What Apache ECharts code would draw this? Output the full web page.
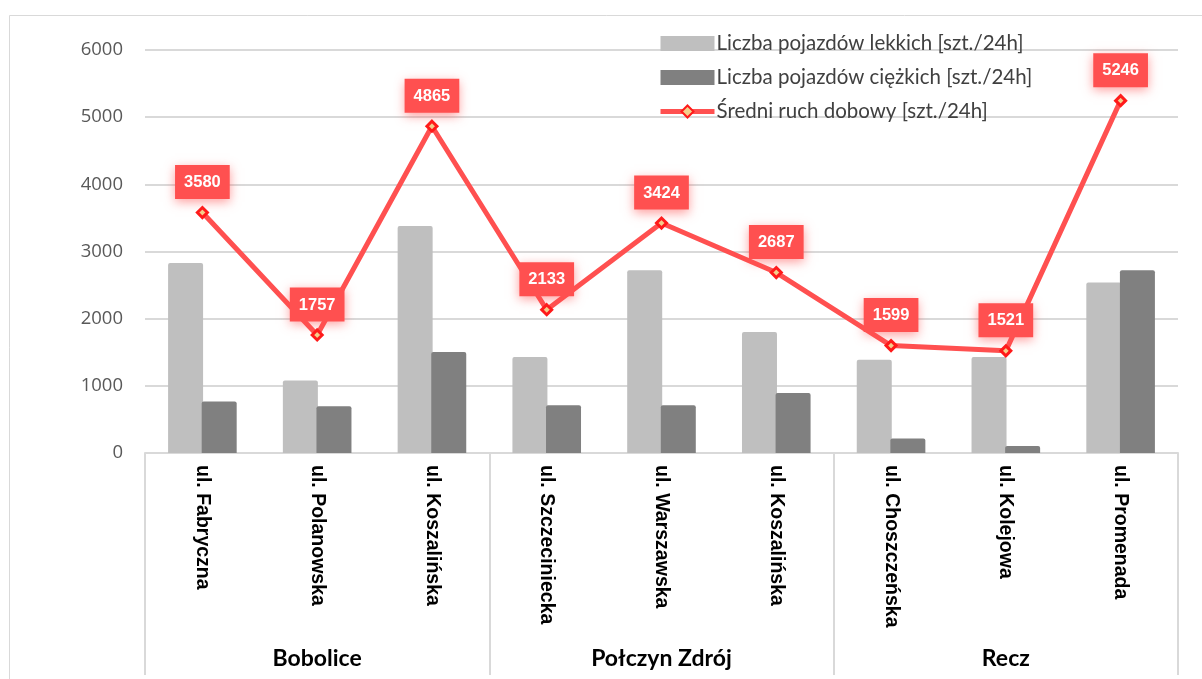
<!DOCTYPE html>
<html>
<head>
<meta charset="utf-8">
<script src="https://cdn.jsdelivr.net/npm/echarts@6/dist/echarts.min.js"></script>
<style>
html,body{margin:0;padding:0;background:#fff;}
#chart{width:1202px;height:679px;}
</style>
</head>
<body>
<div id="chart"></div>
<script>
const streets = ['ul. Fabryczna','ul. Polanowska','ul. Koszalińska','ul. Szczeciniecka','ul. Warszawska','ul. Koszalińska','ul. Choszczeńska','ul. Kolejowa','ul. Promenada'];
const towns = ['Bobolice','Połczyn Zdrój','Recz'];
const lightVehicles = [2830, 1080, 3380, 1430, 2720, 1800, 1390, 1430, 2540];
const heavyVehicles = [765, 695, 1505, 710, 710, 895, 215, 105, 2720];
const dailyTraffic = [3580, 1757, 4865, 2133, 3424, 2687, 1599, 1521, 5246];
const yTicks = [0, 1000, 2000, 3000, 4000, 5000, 6000];
const seriesNames = ['Liczba pojazdów lekkich [szt./24h]','Liczba pojazdów ciężkich [szt./24h]','Średni ruch dobowy [szt./24h]'];

const chart = echarts.init(document.getElementById('chart'), null, {renderer:'canvas'});
const option = {
  backgroundColor: '#ffffff',
  animation: false,
  graphic: [{
    type: 'rect', silent: true, z: -1,
    shape: {x: 9.5, y: 15.5, width: 1220, height: 700},
    style: {fill: 'none', stroke: '#d9d9d9', lineWidth: 1}
  }],
  legend: {
    orient: 'vertical',
    left: 653, top: 28,
    itemWidth: 54, itemHeight: 15, itemGap: 13,
    textStyle: {fontFamily: 'Lato', fontSize: 20.5, color: '#404040', padding: [0,0,0,-3]},
    data: [
      {name: seriesNames[0], icon: 'rect'},
      {name: seriesNames[1], icon: 'rect'},
      {name: seriesNames[2], lineStyle: {width: 5, color: '#ff5050'}}
    ]
  },
  grid: {left: 145, right: 24, top: 50, bottom: 226, containLabel: false},
  xAxis: [{
    type: 'category',
    data: streets,
    position: 'bottom',
    axisLine: {show: true, lineStyle: {color: '#d9d9d9', width: 2}},
    axisTick: {show: false},
    axisLabel: {
      rotate: -90, interval: 0, margin: 12,
      fontFamily: 'Liberation Sans', fontWeight: 'bold', fontSize: 19.5, color: '#000000'
    }
  }, {
    type: 'category',
    data: towns,
    position: 'bottom',
    axisLine: {show: false},
    axisTick: {show: true, length: 222, interval: 0, lineStyle: {color: '#d9d9d9', width: 2}},
    axisLabel: {
      interval: 0, margin: 194,
      fontFamily: 'Lato', fontWeight: 'bold', fontSize: 23, color: '#000000'
    }
  }],
  yAxis: {
    type: 'value', min: yTicks[0], max: yTicks[yTicks.length-1], interval: 1000,
    axisLine: {show: false}, axisTick: {show: false},
    splitLine: {lineStyle: {color: '#d9d9d9', width: 2}},
    axisLabel: {margin: 22, fontFamily: 'Open Sans', fontSize: 18.5, color: '#595959',
      formatter: v => String(v)}
  },
  series: [{
    name: seriesNames[0], type: 'bar', data: lightVehicles,
    barWidth: 35, barGap: '-4%',
    itemStyle: {color: '#bfbfbf', borderRadius: [2,2,0,0]}
  }, {
    name: seriesNames[1], type: 'bar', data: heavyVehicles,
    barWidth: 35, barGap: '-4%',
    itemStyle: {color: '#808080', borderRadius: [2,2,0,0]}
  }, {
    name: seriesNames[2], type: 'line', data: dailyTraffic,
    symbol: 'diamond', symbolSize: 10, z: 5,
    lineStyle: {color: '#ff5050', width: 5},
    itemStyle: {color: '#f4cf8c', borderColor: '#ff1a1a', borderWidth: 3},
    label: {
      show: true, position: 'top', distance: 7,
      backgroundColor: '#ff5050', color: '#ffffff',
      fontFamily: 'Liberation Sans', fontWeight: 'bold', fontSize: 16.5,
      padding: [9, 9, 8, 9],
      shadowBlur: 10, shadowColor: 'rgba(255,80,80,0.55)', shadowOffsetY: 3
    }
  }]
};
chart.setOption(option);
</script>
</body>
</html>
